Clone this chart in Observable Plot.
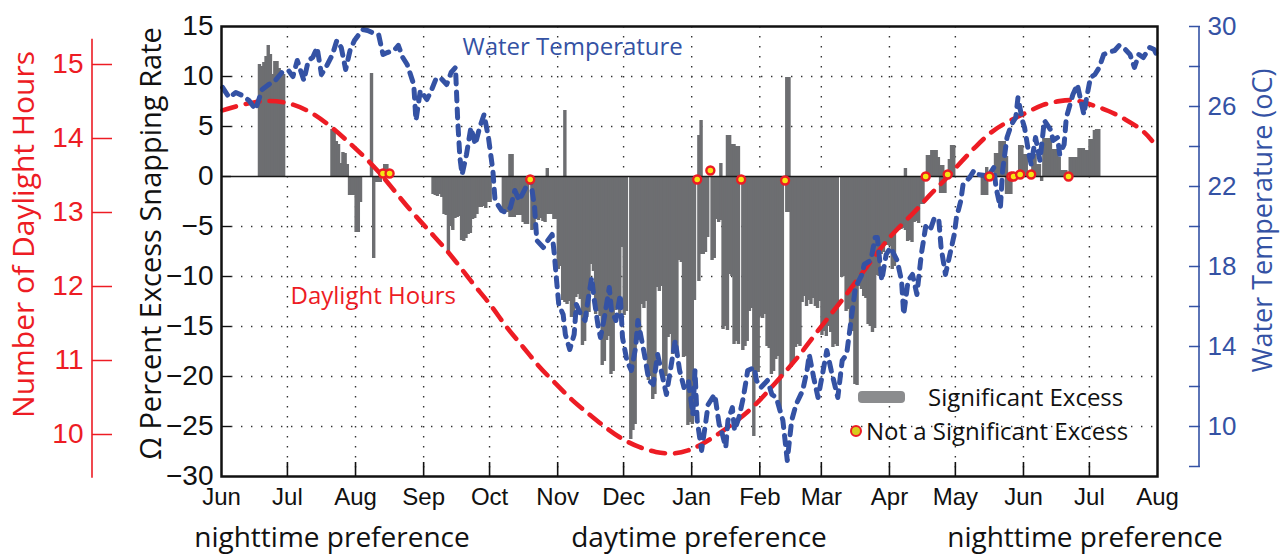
<!DOCTYPE html>
<html>
<head>
<meta charset="utf-8">
<script src="https://cdn.jsdelivr.net/npm/d3@7"></script>
<script src="https://cdn.jsdelivr.net/npm/@observablehq/plot@0.6"></script>
<style>
  body { margin: 0; background: #fff; }
  #wrap { position: relative; width: 1282px; height: 554px; overflow: hidden; font-family: "Open Sans", "Noto Sans", sans-serif; }
  .pref { position: absolute; top: 521px; font-size: 28px; line-height: 30px; transform: translateX(-50%); white-space: nowrap; color: #111; }
  .leg { position: absolute; font-size: 24px; line-height: 26px; white-space: nowrap; color: #111; }
  #legBar { position: absolute; left: 858px; top: 391px; width: 47px; height: 12px; background: #8b8c8e; border-radius: 4px; }
  #legDot { position: absolute; left: 850px; top: 425px; width: 12px; height: 12px; box-sizing: border-box; border-radius: 50%; background: #d6cc1c; border: 2.6px solid #ed1c24; }
</style>
</head>
<body>
<div id="wrap">
  <div id="chart"></div>
  <div id="legBar"></div>
  <div class="leg" style="left:928px; top:384px;">Significant Excess</div>
  <div id="legDot"></div>
  <div class="leg" style="left:866px; top:418px;">Not a Significant Excess</div>
  <div id="prefs"></div>
</div>
<script>
// ---------------- DATA ----------------
const recordStart = [2010, 5, 1]; // 1 June 2010 (UTC), first day of the record
const _ = null;

// Percent excess snapping rate, one value per day (null = no bar)
const excessJun10 = [_,_,_,_,_,_,_,_,_,_,_,_,_,_,_,_,_,11.2,11.0,11.4,12.0,13.1,12.2,10.2,11.5,11.5,10.8,10.3,10.2,_];
const excessJul10 = [_,_,_,_,_,_,_,_,_,_,_,_,_,_,_,_,_,_,_,_,4.7,4.6,3.5,3.2,1.3,2.4,2.3,1.2,-1.9,-1.9,-1.9];
const excessAug10 = [-5.6,-5.6,-2.6,_,_,_,_,10.3,-8.2,-0.6,-0.6,-0.6,_,1.2,1.2,_,_,_,_,_,_,_,_,_,_,_,_,_,_,_,_];
const excessSep10 = [_,_,_,_,-1.8,-1.9,-2.0,-1.8,-2.1,-3.8,-3.9,-7.7,-5.0,-5.4,-4.2,-4.1,-4.0,-6.4,-6.5,-6.2,-5.8,-5.7,-4.3,-4.2,-3.8,-3.1,-3.1,-3.0,-3.2,-2.6];
const excessOct10 = [-2.6,_,_,_,_,_,-3.6,-3.6,-3.6,-4.1,-4.1,-4.1,-3.9,-3.9,-3.9,-4.6,-4.8,-4.8,_,-5.4,-5.3,-4.3,-4.4,-4.2,-4.5,-4.6,-3.8,-3.8,-3.8,-4.3,-4.3];
const excessNov10 = [-9.3,-9.0,-12.4,-12.6,-12.8,-12.5,-14.1,-13.9,-12.1,-11.8,-12.3,-16.9,-16.5,-14.1,-13.6,-8.8,-9.5,-13.8,-13.5,-14.0,-18.9,-18.5,-16.4,-16.0,-19.8,-19.5,-13.4,-13.0,-14.0,-7.1];
const excessDec10 = [-13.9,-13.5,_,-26.3,-25.4,-24.8,-16.4,-16.0,-12.8,-13.2,-12.5,-20.4,-20.0,-22.3,-21.8,-11.1,-11.5,-11.0,-20.4,-20.0,-16.1,-15.8,-17.8,-17.5,-17.9,-8.4,-8.6,-18.1,-18.0,-24.9,-24.6];
const excessJan11 = [-24.8,-12.4,_,-10.5,-7.8,-7.8,-7.6,-6.1,_,-8.4,-8.2,-4.3,-4.6,-4.4,-15.3,-15.0,-15.4,-9.8,-10.0,-16.8,-16.5,-16.8,_,-17.4,-17.0,-16.5,-13.5,-13.2,-26.0,-19.6,-19.6];
const excessFeb11 = [-14.0,-14.2,-13.8,-17.0,-17.2,-19.8,-19.5,-18.3,-18.0,-23.5,-20.0,_,-3.6,-3.6,-19.1,-18.5,-17.1,-16.8,-17.0,-12.6,-12.0,-13.0,-12.4,-12.8,-12.2,-13.0,-13.2,-12.5];
const excessMar11 = [-15.9,-15.5,-16.0,-15.0,-15.6,-17.1,-16.8,-17.0,_,-10.1,-10.0,-13.5,-13.3,-15.1,-15.5,-20.8,-20.9,-11.0,-11.3,-12.0,-12.2,-14.8,-15.0,-15.6,-15.2,-9.9,-10.0,-7.8,-7.6,-6.9,-6.9];
const excessApr11 = [-7.0,-9.3,-9.0,-5.5,-5.4,-5.3,-5.2,-5.4,-6.5,-6.4,-6.6,-4.6,-4.5,-4.7,-2.8,-2.8,_,2.1,2.1,2.6,2.6,2.6,1.9,-1.7,-1.7,-1.7,_,1.7,3.1,3.1];
const excessMay11 = [_,_,_,_,_,_,_,_,_,_,_,_,-1.9,-1.9,-1.9,_,_,_,2.3,2.3,3.5,3.5,3.5,-1.8,-1.8,-1.8,_,_,_,3.1,3.1];
const excessJun11 = [2.2,2.2,_,_,2.2,2.2,1.2,1.2,-0.5,3.8,3.8,3.8,3.8,2.7,2.7,2.7,1.9,0.6,0.6,0.6,_,1.9,1.9,1.9,1.9,2.8,2.8,2.8,2.6,2.6];
const excessJul11 = [3.7,3.7,4.6,4.7,4.7,_,_,_,_,_,_,_,_,_,_,_,_,_,_,_,_,_,_,_,_,_,_,_,_,_,_];

// Positive excess on days that also show a negative bar
const extraExcessDates  = ["2010-10-10","2010-10-11","2010-10-27","2010-11-04","2011-01-04","2011-01-05","2011-01-14","2011-01-17","2011-01-18","2011-01-19","2011-01-20","2011-01-21","2011-01-22","2011-02-13","2011-02-14","2011-04-08","2011-04-24","2011-04-25","2011-05-15","2011-05-24"];
const extraExcessValues = [2.2,2.2,0.8,6.6,4.1,5.6,1.3,4.1,4.1,3.2,3.2,3.0,3.0,9.9,9.9,0.8,1.1,1.1,0.9,2.0];

// Days that are not a significant excess
const notSigDates  = ["2010-08-13","2010-08-16","2010-10-19","2011-01-03","2011-01-09","2011-01-23","2011-02-12","2011-04-17","2011-04-27","2011-05-16","2011-05-26","2011-05-27","2011-05-30","2011-06-04","2011-06-21"];
const notSigValues = [0.3,0.3,-0.3,-0.3,0.6,-0.3,-0.4,0,0.2,0,0,0,0.2,0.2,0];

// Water temperature (°C): [day of record, temperature]
const waterTemp = [[0,26.95],[3,26.45],[6,26.7],[9,26.55],[12,26.3],[15,25.85],[18,26.85],[21,27.1],[24,27.3],[27,27.7],[30,27.8],[32,27.5],[34,28.3],[37,27.3],[39,28.3],[41,28.45],[43,28.95],[45,27.6],[47,27.95],[50,28.6],[52,29.3],[54,28.95],[56,27.85],[58,28.8],[60,29.3],[62,29.6],[64,29.85],[66,29.8],[68,29.7],[71,29.6],[73,28.6],[75,28.7],[78,28.8],[80,29.05],[82,28.45],[84,28.1],[87,27.1],[88,25.3],[90,26.8],[93,26.35],[95,26.8],[97,27.35],[99,27.45],[102,27.1],[104,27.7],[106,27.95],[107,25.3],[108,23.45],[109,22.6],[111,23.6],[113,24.95],[115,24.1],[117,24.95],[119,25.6],[121,24.45],[123,22.8],[124,21.3],[127,20.8],[129,20.7],[131,20.95],[133,21.8],[135,21.3],[138,21.95],[140,22.45],[142,20.95],[143,19.3],[146,18.95],[148,19.3],[150,19.6],[151,18.6],[152,17.3],[153,16.1],[155,15.6],[156,14.6],[158,13.85],[160,14.6],[161,16.1],[163,15.6],[165,15.3],[166,16.1],[168,17.45],[169,16.45],[171,14.95],[172,14.45],[174,15.6],[176,16.95],[177,15.8],[179,15.3],[181,16.6],[182,14.45],[184,13.3],[186,12.8],[188,13.95],[189,15.3],[192,13.6],[194,12.3],[196,12.1],[198,13.6],[200,12.6],[202,11.6],[204,12.95],[206,14.3],[208,12.8],[210,11.95],[212,12.3],[214,10.6],[215,12.8],[216,10.3],[218,8.8],[220,10.3],[221,11.1],[223,11.45],[224,11.6],[226,10.1],[227,9.8],[229,8.95],[230,10.3],[232,10.95],[233,9.8],[235,10.45],[237,11.45],[239,12.8],[242,12.95],[243,12.3],[245,11.95],[248,12.3],[250,11.6],[252,11.45],[255,10.3],[257,8.3],[259,10.3],[261,11.1],[264,11.8],[266,12.8],[267,13.6],[269,12.45],[271,11.45],[273,12.6],[275,13.8],[277,12.8],[280,11.45],[282,13.3],[284,13.6],[285,14.45],[287,16.1],[288,16.95],[291,17.6],[292,18.1],[295,18.3],[297,19.45],[298,19.45],[300,17.3],[302,18.6],[304,18.95],[307,18.3],[309,17.3],[310,15.6],[312,17.3],[314,17.6],[316,16.6],[318,18.6],[320,20.0],[322,19.8],[324,20.45],[326,20.3],[327,18.95],[329,17.6],[331,18.6],[333,19.6],[334,20.45],[336,21.3],[337,22.1],[340,22.45],[342,22.8],[344,22.6],[347,22.55],[348,22.3],[349,22.6],[351,22.95],[352,21.95],[354,20.95],[355,22.8],[357,24.45],[359,25.1],[361,25.45],[362,26.45],[364,25.3],[365,24.95],[367,23.6],[368,23.1],[370,24.45],[372,23.3],[374,25.3],[377,24.8],[378,24.3],[380,24.45],[381,23.6],[383,24.1],[384,25.45],[387,26.6],[389,27.1],[390,26.6],[392,25.6],[393,26.3],[395,27.45],[397,27.6],[399,27.95],[401,28.6],[403,28.7],[406,28.8],[408,29.05],[410,28.95],[413,28.6],[415,27.95],[417,28.6],[419,28.45],[422,28.95],[424,28.85],[425,28.6]];

// Number of daylight hours: [day of record, hours]
const daylight = [[0,14.38],[10,14.47],[20,14.52],[30,14.49],[40,14.37],[50,14.15],[60,13.88],[71,13.57],[84,13.07],[97,12.66],[106,12.35],[114,12.03],[122,11.76],[129,11.45],[137,11.18],[144,10.91],[152,10.68],[159,10.46],[167,10.27],[174,10.10],[182,9.93],[190,9.82],[197,9.76],[205,9.73],[212,9.78],[218,9.86],[228,10.05],[241,10.34],[251,10.68],[262,11.04],[272,11.45],[283,11.85],[293,12.26],[304,12.70],[315,13.0],[322,13.25],[328,13.41],[335,13.65],[343,13.90],[350,14.10],[358,14.24],[366,14.35],[373,14.46],[381,14.51],[388,14.53],[396,14.45],[403,14.38],[411,14.26],[419,14.11],[423,13.97]];

// Axis ticks and labels
const monthLabels = ["Jun","Jul","Aug","Sep","Oct","Nov","Dec","Jan","Feb","Mar","Apr","May","Jun","Jul","Aug"];
const percentTicks = [15,10,5,0,-5,-10,-15,-20,-25,-30];
const percentGrid = [10,5,-5,-10,-15,-20,-25];
const daylightTicks = [10,11,12,13,14,15];
const daylightAxisRange = [9.41, 15.34];
const tempTicks = [8,10,12,14,16,18,20,22,24,26,28,30];
const tempLabelTicks = [10,14,18,22,26,30];
const tempAxisRange = [8, 30];
const titles = {
  percent: "Ω Percent Excess Snapping Rate",
  daylight: "Number of Daylight Hours",
  temp: "Water Temperature (oC)",
  tempNote: "Water Temperature",
  dayNote: "Daylight Hours"
};
const preferenceLabels = ["nighttime preference", "daytime preference", "nighttime preference"];

// ---------------- CHART ----------------
const gray = "#6d6e71", red = "#ed1c24", blue = "#3452a4", dotFill = "#f5e614";
const narrow = "'Liberation Sans Narrow', 'Liberation Sans', Arial, sans-serif";
const humanist = "'Open Sans', 'Noto Sans', sans-serif";

const day0 = new Date(Date.UTC(...recordStart));
const dayDate = d => d3.utcDay.offset(day0, d);
const parse = s => new Date(s + "T00:00:00Z");
const midday = dt => new Date(+dt + 12 * 3600 * 1000);

// the two secondary quantities are drawn against the percent scale
const hoursToPct = h => 11.2 - 7.4 * (15 - h);
const pctToHours = p => 15 - (11.2 - p) / 7.4;
const tempToPct = t => 2 * t - 45;
const pctToTemp = p => (p + 45) / 2;

const allExcess = [].concat(excessJun10, excessJul10, excessAug10, excessSep10, excessOct10, excessNov10,
  excessDec10, excessJan11, excessFeb11, excessMar11, excessApr11, excessMay11, excessJun11, excessJul11);
const bars = allExcess.map((v, i) => ({date: dayDate(i), value: v})).filter(d => d.value != null);
const extraBars = extraExcessDates.map((s, i) => ({date: parse(s), value: extraExcessValues[i]}));
const notSig = notSigDates.map((s, i) => ({date: parse(s), value: notSigValues[i]}));
const tempData = waterTemp.map(([d, t]) => ({date: midday(dayDate(d)), t}));
const dayData = daylight.map(([d, h]) => ({date: midday(dayDate(d)), h}));

const domainEnd = d3.utcMonth.offset(d3.utcMonth.offset(day0, 12), 2);
const monthTicks = d3.utcMonth.range(day0, d3.utcDay.offset(domainEnd, 1));
const monthFmt = d => monthLabels[monthTicks.findIndex(m => +m === +d)];

const barOpts = {x1: "date", x2: d => d3.utcDay.offset(d.date, 1), y: "value", fill: gray, insetLeft: -0.6, insetRight: -0.6};

const plot = Plot.plot({
  width: 1282,
  height: 512,
  marginLeft: 221,
  marginRight: 125,
  marginTop: 26,
  marginBottom: 36,
  style: {background: "transparent", overflow: "visible", fontFamily: narrow},
  x: {type: "utc", domain: [day0, domainEnd]},
  y: {domain: [-30, 15]},
  marks: [
    Plot.ruleY(percentGrid, {stroke: "#333", strokeWidth: 1.4, strokeDasharray: "1.4,8.6"}),
    Plot.ruleX(monthTicks.slice(1, -1), {stroke: "#333", strokeWidth: 1.4, strokeDasharray: "1.4,8.6"}),
    Plot.rectY(bars, barOpts),
    Plot.rectY(extraBars, barOpts),
    Plot.ruleY([0], {stroke: "#1a1a1a", strokeWidth: 1.6}),
    Plot.line(dayData, {x: "date", y: d => hoursToPct(d.h), stroke: red, strokeWidth: 4.6, strokeDasharray: "14,10", curve: "basis"}),
    Plot.line(tempData, {x: "date", y: d => tempToPct(d.t), stroke: blue, strokeWidth: 5, strokeDasharray: "9,8", strokeLinejoin: "round"}),
    Plot.dot(notSig, {x: d => midday(d.date), y: "value", r: 4, fill: dotFill, stroke: red, strokeWidth: 2.4}),
    Plot.tickX(monthTicks.slice(1, -1), {x: d => d, stroke: "#111", strokeWidth: 1.6, insetTop: 436}),
    Plot.tickY(percentTicks.slice(1, -1), {y: d => d, stroke: "#111", strokeWidth: 1.4, insetRight: 926}),
    Plot.frame({stroke: "#111", strokeWidth: 2.5}),
    Plot.axisX(monthTicks, {anchor: "bottom", tickSize: 0, tickPadding: 11, tickFormat: monthFmt, fontSize: 24, fontFamily: narrow, label: null, color: "#111"}),
    Plot.axisY(percentTicks, {anchor: "left", tickSize: 0, tickPadding: 8, fontSize: 28, fontFamily: narrow, label: null, color: "#111"}),
    Plot.axisY(daylightTicks.map(hoursToPct), {anchor: "left", tickSize: 20, tickPadding: 9, dx: -109, color: red, strokeWidth: 1.5,
      fontSize: 28, fontFamily: narrow, label: null, tickFormat: p => Math.round(pctToHours(p))}),
    Plot.axisY(tempTicks.map(tempToPct), {anchor: "right", tickSize: 11, tickPadding: 8, dx: 31, color: blue, strokeWidth: 1.5,
      fontSize: 26, fontFamily: narrow, label: null,
      tickFormat: p => { const t = Math.round(pctToTemp(p)); return tempLabelTicks.includes(t) ? String(t) : ""; }}),
    Plot.text([titles.percent], {frameAnchor: "left", textAnchor: "middle", lineAnchor: "middle", dx: -70, dy: -8, rotate: -90, fontSize: 29, fontFamily: humanist, fill: "#111"}),
    Plot.text([titles.daylight], {frameAnchor: "left", textAnchor: "middle", lineAnchor: "middle", dx: -197, dy: -17, rotate: -90, fontSize: 30, fontFamily: humanist, fill: red}),
    Plot.text([titles.temp], {frameAnchor: "right", textAnchor: "middle", lineAnchor: "middle", dx: 106, dy: -31, rotate: -90, fontSize: 27, fontFamily: humanist, fill: blue}),
    Plot.text([titles.tempNote], {frameAnchor: "top-left", textAnchor: "start", lineAnchor: "middle", dx: 241, dy: 21, fontSize: 24, fontFamily: humanist, fill: blue}),
    Plot.text([titles.dayNote], {frameAnchor: "top-left", textAnchor: "start", lineAnchor: "middle", dx: 69, dy: 270, fontSize: 24, fontFamily: humanist, fill: red})
  ]
});

// axis spines for the two secondary axes, placed through the plot's y scale
const yScale = plot.scale("y");
const svg = d3.select(plot);
svg.append("line")
  .attr("x1", 92).attr("x2", 92)
  .attr("y1", yScale.apply(hoursToPct(daylightAxisRange[1])))
  .attr("y2", yScale.apply(hoursToPct(daylightAxisRange[0])))
  .attr("stroke", red).attr("stroke-width", 1.6);
svg.append("line")
  .attr("x1", 1199).attr("x2", 1199)
  .attr("y1", yScale.apply(tempToPct(tempAxisRange[1])))
  .attr("y2", yScale.apply(tempToPct(tempAxisRange[0])))
  .attr("stroke", blue).attr("stroke-width", 1.6);

document.getElementById("chart").appendChild(plot);

const prefCenters = [332, 699, 1085];
const prefs = document.getElementById("prefs");
preferenceLabels.forEach((t, i) => {
  const el = document.createElement("div");
  el.className = "pref";
  el.style.left = prefCenters[i] + "px";
  el.textContent = t;
  prefs.appendChild(el);
});
</script>
</body>
</html>
